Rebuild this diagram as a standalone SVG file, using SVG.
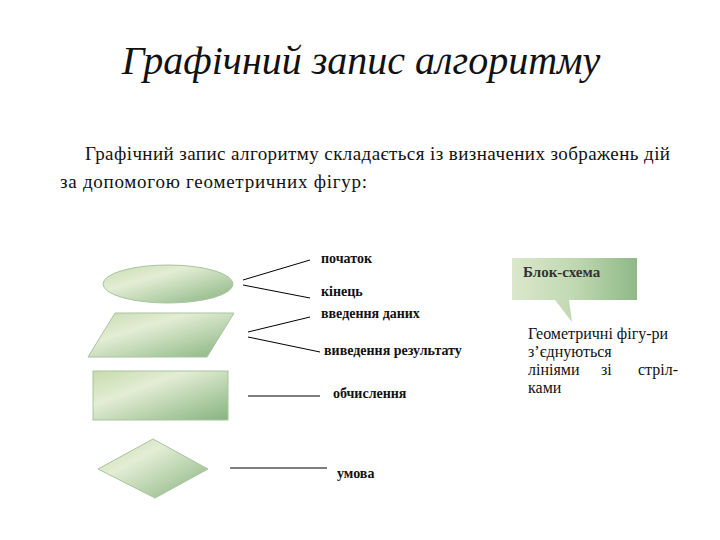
<svg xmlns="http://www.w3.org/2000/svg" width="720" height="540" viewBox="0 0 720 540">
<defs>
<linearGradient id="g" x1="0" y1="0" x2="1" y2="1">
<stop offset="0" stop-color="#c6dbad"/>
<stop offset="0.35" stop-color="#e3edd4"/>
<stop offset="1" stop-color="#86b37f"/>
</linearGradient>
<linearGradient id="gc" x1="0" y1="0" x2="1" y2="0">
<stop offset="0" stop-color="#dbe8cb"/>
<stop offset="0.5" stop-color="#c0d8b2"/>
<stop offset="1" stop-color="#8fb987"/>
</linearGradient>
<style>
.shape{fill:url(#g);stroke:#a9c3a0;stroke-width:1}
.lbl{font-family:"Liberation Serif","DejaVu Serif",serif;font-weight:bold;font-size:14px;fill:#111}
.body{font-family:"Liberation Serif","DejaVu Serif",serif;font-size:19px;fill:#111}
.cb{font-family:"Liberation Serif","DejaVu Serif",serif;font-size:16px;fill:#111}
.ln{stroke:#000;stroke-width:1;fill:none}
</style>
</defs>
<rect width="720" height="540" fill="#fff"/>
<text x="361" y="74" text-anchor="middle" font-family="'Liberation Serif', 'DejaVu Serif', serif" font-style="italic" font-size="40" fill="#111">Графічний запис алгоритму</text>
<text class="body" x="85" y="160" textLength="585">Графічний запис алгоритму складається із визначених зображень дій</text>
<text class="body" x="60" y="188" textLength="307">за допомогою геометричних фігур:</text>

<g id="terminal"><ellipse class="shape" cx="168" cy="284" rx="65" ry="19"/></g>
<g id="io"><polygon class="shape" points="115,313 234,313 207,357 88,357"/></g>
<g id="process"><rect class="shape" x="93" y="371" width="135" height="49" stroke="#999"/></g>
<g id="decision"><polygon class="shape" points="153,439 208,469 155,498 98,469"/></g>

<g id="connectors">
<line class="ln" x1="243" y1="280" x2="310" y2="260"/>
<line class="ln" x1="243" y1="285" x2="310" y2="298"/>
<line class="ln" x1="248" y1="332" x2="310" y2="317"/>
<line class="ln" x1="248" y1="337" x2="320" y2="352"/>
<line class="ln" x1="248" y1="396" x2="320" y2="396"/>
<line class="ln" x1="230" y1="468" x2="327" y2="468"/>
</g>

<g id="labels">
<text class="lbl" x="321" y="263">початок</text>
<text class="lbl" x="321" y="296">кінець</text>
<text class="lbl" x="321" y="318">введення даних</text>
<text class="lbl" x="324" y="355">виведення результату</text>
<text class="lbl" x="333" y="398">обчислення</text>
<text class="lbl" x="337" y="478">умова</text>
</g>

<g id="callout">
<path d="M512,258 H637 V300 H569 L572,322 L555,300 H512 Z" fill="url(#gc)"/>
<text x="523" y="277" font-family="'Liberation Serif', 'DejaVu Serif', serif" font-weight="bold" font-size="15" fill="#333">Блок-схема</text>
</g>
<g id="note">
<text class="cb" x="528" y="339">Геометричні фігу-ри</text>
<text class="cb" x="528" y="357">з’єднуються</text>
<text class="cb" y="375"><tspan x="528">лініями</tspan><tspan x="601">зі</tspan><tspan x="638">стріл-</tspan></text>
<text class="cb" x="528" y="393">ками</text>
</g>
</svg>
